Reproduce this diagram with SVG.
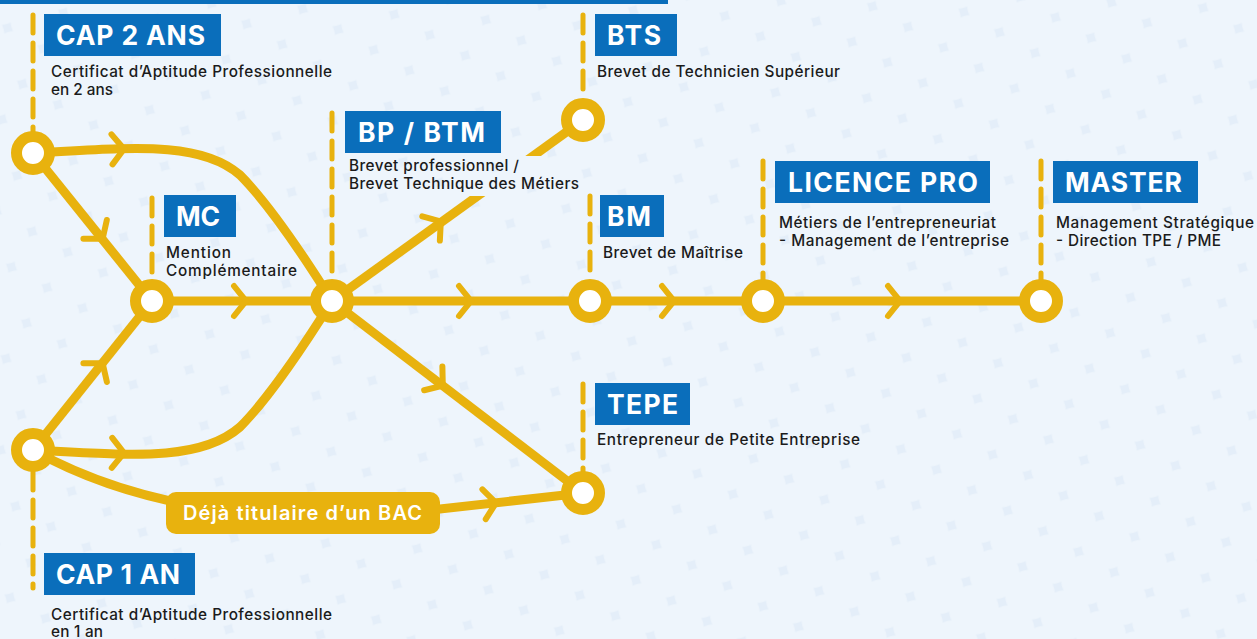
<svg xmlns="http://www.w3.org/2000/svg" width="1257" height="639" viewBox="0 0 1257 639">
<defs>
<pattern id="bg" patternUnits="userSpaceOnUse" width="58" height="58" patternTransform="rotate(-15)">
<rect width="58" height="58" fill="#e4eef9"/>
<circle cx="29" cy="29" r="25" fill="#eef5fc"/>
<circle cx="0" cy="0" r="25" fill="#eef5fc"/>
<circle cx="58" cy="0" r="25" fill="#eef5fc"/>
<circle cx="0" cy="58" r="25" fill="#eef5fc"/>
<circle cx="58" cy="58" r="25" fill="#eef5fc"/>
</pattern>
<path id="chev" d="M-11,-15 L1,0 L-11,15"/>
<style>
.ln{fill:none;stroke:#e8b20e;stroke-width:9;stroke-linecap:butt}
.ar{fill:none;stroke:#e8b20e;stroke-width:6;stroke-linecap:round;stroke-linejoin:miter}
.dash{fill:none;stroke:#e8b20e;stroke-width:5;stroke-dasharray:18 10;stroke-linecap:round}
.ring{fill:#ffffff;stroke:#e8b20e;stroke-width:11}
.box{fill:#0a6ebb}
.ttl{font-family:Inter,"Liberation Sans",sans-serif;font-weight:700;font-size:26.5px;fill:#ffffff}
.dsc{font-family:Inter,"Liberation Sans",sans-serif;font-weight:500;font-size:15.3px;fill:#1b1b1b}
.bac{font-family:Inter,"Liberation Sans",sans-serif;font-weight:600;font-size:20px;fill:#ffffff}
</style>
</defs>
<rect width="1257" height="639" fill="url(#bg)"/>
<rect x="0" y="0" width="668" height="4" fill="#0a6ebb"/>

<g id="connectors">
<path class="ln" d="M33,153 C130,148 200,140 240,175 C265,200 300,250 332,301"/>
<path class="ln" d="M33,450 C130,455 200,462 240,427 C265,402 300,352 332,301"/>
<path class="ln" d="M33,153 L152,301"/>
<path class="ln" d="M33,450 L152,301"/>
<path class="ln" d="M33,450 C90,482 150,500 220,510 L440,509 L583,493"/>
<path class="ln" d="M152,301 L1041,301"/>
<path class="ln" d="M332,301 L583,120"/>
<path class="ln" d="M332,301 L583,493"/>
<use href="#chev" class="ar" transform="translate(123,149) rotate(-2)"/>
<use href="#chev" class="ar" transform="translate(102,238) rotate(51.2)"/>
<use href="#chev" class="ar" transform="translate(102,364) rotate(-51.4)"/>
<use href="#chev" class="ar" transform="translate(123,453) rotate(1)"/>
<use href="#chev" class="ar" transform="translate(245,301)"/>
<use href="#chev" class="ar" transform="translate(440,222) rotate(-35.8)"/>
<use href="#chev" class="ar" transform="translate(470,301)"/>
<use href="#chev" class="ar" transform="translate(442,385) rotate(37.4)"/>
<use href="#chev" class="ar" transform="translate(673,301)"/>
<use href="#chev" class="ar" transform="translate(899,301)"/>
<use href="#chev" class="ar" transform="translate(495,503) rotate(-6.4)"/>
<path class="dash" d="M33,15 L33,132"/>
<path class="dash" d="M33,472 L33,588"/>
<path class="dash" d="M152,198 L152,280"/>
<path class="dash" d="M332,113 L332,280"/>
<path class="dash" d="M583,15 L583,98"/>
<path class="dash" d="M590,196 L590,280"/>
<path class="dash" d="M763,161 L763,280"/>
<path class="dash" d="M1041,161 L1041,280"/>
<path class="dash" d="M583,384 L583,472"/>
</g>

<g id="bac-label">
<rect x="166" y="492" width="274" height="42" rx="10" fill="#e8b20e"/>
<text class="bac" x="183" y="520" textLength="239">Déjà titulaire d’un BAC</text>
</g>

<g id="node-cap2">
<circle class="ring" cx="33" cy="153" r="16.5"/>
<rect class="box" x="44" y="14" width="177" height="42"/>
<text class="ttl" x="56" y="45" textLength="149">CAP 2 ANS</text>
<text class="dsc" x="51" y="77" textLength="281">Certificat d’Aptitude Professionnelle</text>
<text class="dsc" x="51" y="95" textLength="62">en 2 ans</text>
</g>

<g id="node-cap1">
<circle class="ring" cx="33" cy="450" r="16.5"/>
<rect class="box" x="44" y="553" width="151" height="42"/>
<text class="ttl" x="56" y="584" textLength="124">CAP 1 AN</text>
<text class="dsc" x="51" y="620" textLength="281">Certificat d’Aptitude Professionnelle</text>
<text class="dsc" x="51" y="637" textLength="52">en 1 an</text>
</g>

<g id="node-mc">
<circle class="ring" cx="152" cy="301" r="16.5"/>
<rect class="box" x="164" y="195" width="72" height="42"/>
<text class="ttl" x="176" y="226" textLength="44">MC</text>
<text class="dsc" x="166" y="258" textLength="65">Mention</text>
<text class="dsc" x="166" y="276" textLength="131">Complémentaire</text>
</g>

<g id="node-bp">
<rect x="342" y="156" width="244" height="40" fill="url(#bg)"/>
<circle class="ring" cx="332" cy="301" r="16.5"/>
<rect class="box" x="345" y="111" width="156" height="42"/>
<text class="ttl" x="358" y="142" textLength="127">BP / BTM</text>
<text class="dsc" x="349" y="171" textLength="170">Brevet professionnel /</text>
<text class="dsc" x="349" y="189" textLength="230">Brevet Technique des Métiers</text>
</g>

<g id="node-bts">
<circle class="ring" cx="583" cy="120" r="16.5"/>
<rect class="box" x="595" y="14" width="82" height="42"/>
<text class="ttl" x="607" y="45" textLength="54">BTS</text>
<text class="dsc" x="597" y="77" textLength="243">Brevet de Technicien Supérieur</text>
</g>

<g id="node-bm">
<circle class="ring" cx="590" cy="301" r="16.5"/>
<rect class="box" x="600" y="195" width="64" height="42"/>
<text class="ttl" x="607" y="226" textLength="44">BM</text>
<text class="dsc" x="603" y="258" textLength="140">Brevet de Maîtrise</text>
</g>

<g id="node-licence">
<circle class="ring" cx="763" cy="301" r="16.5"/>
<rect class="box" x="775" y="161" width="215" height="42"/>
<text class="ttl" x="788" y="192" textLength="190">LICENCE PRO</text>
<text class="dsc" x="779" y="228" textLength="217">Métiers de l’entrepreneuriat</text>
<text class="dsc" x="779" y="246" textLength="230">- Management de l’entreprise</text>
</g>

<g id="node-master">
<circle class="ring" cx="1041" cy="301" r="16.5"/>
<rect class="box" x="1053" y="161" width="145" height="42"/>
<text class="ttl" x="1065" y="192" textLength="117">MASTER</text>
<text class="dsc" x="1056" y="228" textLength="198">Management Stratégique</text>
<text class="dsc" x="1056" y="246" textLength="165">- Direction TPE / PME</text>
</g>

<g id="node-tepe">
<circle class="ring" cx="583" cy="493" r="16.5"/>
<rect class="box" x="595" y="383" width="95" height="42"/>
<text class="ttl" x="607" y="414" textLength="71">TEPE</text>
<text class="dsc" x="597" y="445" textLength="263">Entrepreneur de Petite Entreprise</text>
</g>
</svg>
